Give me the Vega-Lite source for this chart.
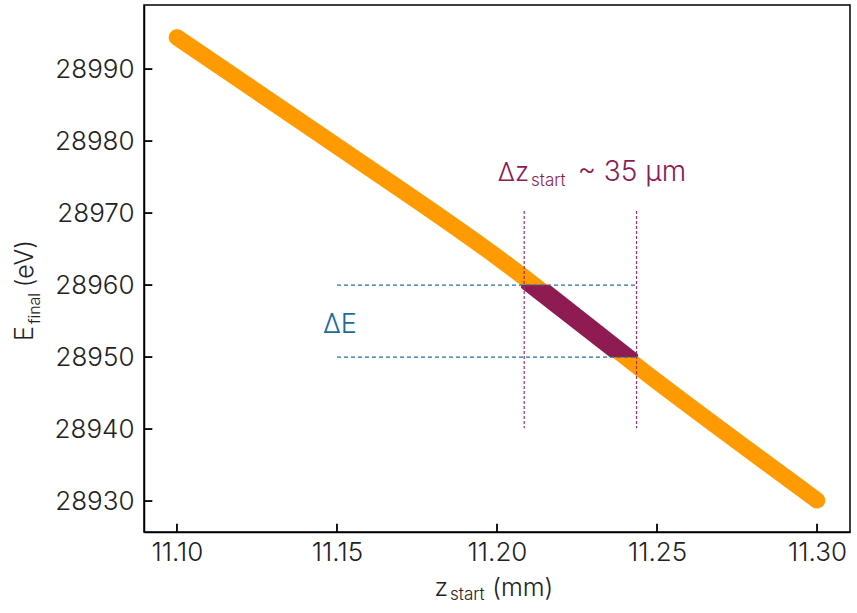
{
  "$schema": "https://vega.github.io/schema/vega-lite/v6.json",
  "autosize": {"type": "none"},
  "padding": {"left": 144, "top": 5, "right": 7, "bottom": 81},
  "width": 706,
  "height": 527,
  "background": "white",
  "config": {
    "view": {"stroke": "black", "strokeWidth": 1.5},
    "font": "Inter",
    "axis": {
      "grid": false,
      "domainColor": "black",
      "domainWidth": 1.5,
      "ticks": false,
      "labelFont": "Inter",
      "labelFontWeight": 300,
      "labelFontSize": 26,
      "labelColor": "#222222",
      "title": null
    }
  },
  "encoding": {
    "x": {
      "field": "x",
      "type": "quantitative",
      "scale": {"domain": [11.0897, 11.3103], "nice": false, "zero": false},
      "axis": {"values": [11.1, 11.15, 11.2, 11.25, 11.3], "format": ".2f", "labelPadding": 7, "title": null}
    },
    "y": {
      "field": "E",
      "type": "quantitative",
      "scale": {"domain": [28925.7, 28998.9], "nice": false, "zero": false},
      "axis": {"values": [28930, 28940, 28950, 28960, 28970, 28980, 28990], "format": "d", "labelPadding": 10, "title": null}
    }
  },
  "layer": [
    {
      "data": {"values": [
        {"x": 11.1, "E": 28994.4},
        {"x": 11.15, "E": 28979.3},
        {"x": 11.2, "E": 28963.9},
        {"x": 11.25, "E": 28946.6},
        {"x": 11.3, "E": 28930.1}
      ]},
      "mark": {"type": "line", "color": "#FF9B00", "strokeWidth": 16.5, "strokeCap": "round", "strokeJoin": "round", "interpolate": "monotone"}
    },
    {
      "data": {"values": [
        {"x": 11.2081, "x2": 11.2163, "E": 28959.75},
        {"x": 11.2355, "x2": 11.2435, "E": 28950.25}
      ]},
      "mark": {"type": "area", "orient": "horizontal", "color": "#8E1B52", "stroke": "#8E1B52", "strokeWidth": 4, "strokeJoin": "round"},
      "encoding": {"x2": {"field": "x2"}}
    },
    {
      "data": {"values": [
        {"x": 11.15, "x2": 11.2433, "E": 28960},
        {"x": 11.15, "x2": 11.2433, "E": 28950}
      ]},
      "mark": {"type": "rule", "color": "#2A6E9C", "strokeWidth": 1.2, "strokeDash": [4, 3]},
      "encoding": {"x2": {"field": "x2"}}
    },
    {
      "data": {"values": [
        {"x": 11.2085, "E": 28970.3, "E2": 28940.1},
        {"x": 11.2436, "E": 28970.3, "E2": 28940.1}
      ]},
      "mark": {"type": "rule", "color": "#A0306A", "strokeWidth": 1.2, "strokeDash": [3, 2]},
      "encoding": {"y2": {"field": "E2"}}
    },
    {
      "data": {"values": [
        {"x": 11.1, "E": 28925.7, "E2": 28926.85},
        {"x": 11.15, "E": 28925.7, "E2": 28926.85},
        {"x": 11.2, "E": 28925.7, "E2": 28926.85},
        {"x": 11.25, "E": 28925.7, "E2": 28926.85},
        {"x": 11.3, "E": 28925.7, "E2": 28926.85}
      ]},
      "mark": {"type": "rule", "color": "black", "strokeWidth": 1.8},
      "encoding": {"y2": {"field": "E2"}}
    },
    {
      "data": {"values": [
        {"x": 11.0897, "x2": 11.0923, "E": 28930},
        {"x": 11.0897, "x2": 11.0923, "E": 28940},
        {"x": 11.0897, "x2": 11.0923, "E": 28950},
        {"x": 11.0897, "x2": 11.0923, "E": 28960},
        {"x": 11.0897, "x2": 11.0923, "E": 28970},
        {"x": 11.0897, "x2": 11.0923, "E": 28980},
        {"x": 11.0897, "x2": 11.0923, "E": 28990}
      ]},
      "mark": {"type": "rule", "color": "black", "strokeWidth": 1.8},
      "encoding": {"x2": {"field": "x2"}}
    },
    {
      "data": {"values": [
        {"x": 11.21, "E": 28974.44, "t": "Δz"}
      ]},
      "mark": {"type": "text", "align": "right", "baseline": "alphabetic", "fontSize": 26, "font": "Inter", "fontWeight": 300, "color": "#8B1D55"},
      "encoding": {"text": {"field": "t"}}
    },
    {
      "data": {"values": [
        {"x": 11.2591, "E": 28974.44, "t": "~ 35 μm"}
      ]},
      "mark": {"type": "text", "align": "right", "baseline": "alphabetic", "fontSize": 28, "font": "Inter", "fontWeight": 300, "color": "#8B1D55"},
      "encoding": {"text": {"field": "t"}}
    },
    {
      "data": {"values": [
        {"x": 11.2106, "E": 28973.75, "t": "start"}
      ]},
      "mark": {"type": "text", "align": "left", "baseline": "alphabetic", "fontSize": 17, "font": "Inter", "fontWeight": 300, "color": "#8B1D55"},
      "encoding": {"text": {"field": "t"}}
    },
    {
      "data": {"values": [
        {"x": 11.1456, "E": 28953.33, "t": "ΔE"}
      ]},
      "mark": {"type": "text", "align": "left", "baseline": "alphabetic", "fontSize": 27, "font": "Inter", "fontWeight": 300, "color": "#1A6C9A"},
      "encoding": {"text": {"field": "t"}}
    },
    {
      "data": {"values": [
        {"x": 11.1847, "E": 28916.8, "t": "z"}
      ]},
      "mark": {"type": "text", "align": "right", "baseline": "alphabetic", "fontSize": 25, "font": "Inter", "fontWeight": 300, "color": "#222222"},
      "encoding": {"text": {"field": "t"}}
    },
    {
      "data": {"values": [
        {"x": 11.1985, "E": 28916.8, "t": "(mm)"}
      ]},
      "mark": {"type": "text", "align": "left", "baseline": "alphabetic", "fontSize": 25, "font": "Inter", "fontWeight": 300, "color": "#222222"},
      "encoding": {"text": {"field": "t"}}
    },
    {
      "data": {"values": [
        {"x": 11.1853, "E": 28916.25, "t": "start"}
      ]},
      "mark": {"type": "text", "align": "left", "baseline": "alphabetic", "fontSize": 17, "font": "Inter", "fontWeight": 300, "color": "#222222"},
      "encoding": {"text": {"field": "t"}}
    },
    {
      "data": {"values": [
        {"x": 11.055, "E": 28954.31, "t": "E"}
      ]},
      "mark": {"type": "text", "align": "right", "baseline": "alphabetic", "angle": 270, "fontSize": 25, "font": "Inter", "fontWeight": 300, "color": "#222222"},
      "encoding": {"text": {"field": "t"}}
    },
    {
      "data": {"values": [
        {"x": 11.055, "E": 28966.25, "t": "(eV)"}
      ]},
      "mark": {"type": "text", "align": "right", "baseline": "alphabetic", "angle": 270, "fontSize": 25, "font": "Inter", "fontWeight": 300, "color": "#222222"},
      "encoding": {"text": {"field": "t"}}
    },
    {
      "data": {"values": [
        {"x": 11.0572, "E": 28954.58, "t": "final"}
      ]},
      "mark": {"type": "text", "align": "left", "baseline": "alphabetic", "angle": 270, "fontSize": 16, "font": "Inter", "fontWeight": 300, "color": "#222222"},
      "encoding": {"text": {"field": "t"}}
    }
  ]
}
